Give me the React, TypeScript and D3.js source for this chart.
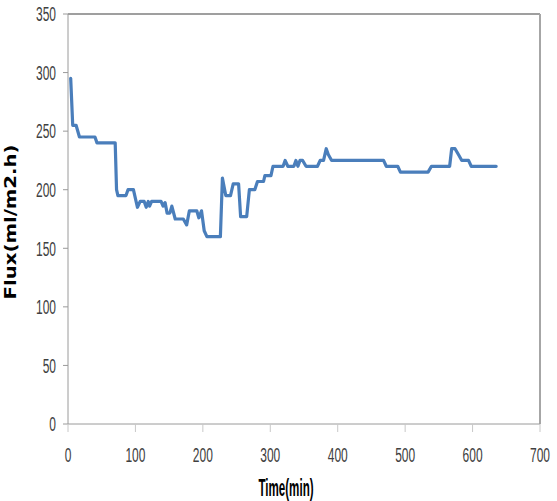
import React from "react";
import * as d3 from "d3";

const timeMin = [4,7,12,17,40,43,70,72,74,86,89,97,103,107,113,116,119,121,124,138,141,144,147,151,154,159,171,176,180,191,194,198,202,206,226,229,234,241,245,253,256,265,269,277,281,290,292,301,304,319,322,326,335,338,341,344,348,353,370,374,379,383,386,391,468,472,489,493,534,539,566,569,574,579,584,594,598,635];
const flux = [295,255,255,245,245,240,240,200,195,195,200,200,185,190,190,185,190,186,190,190,186,189,180,180,186,175,175,170,182,182,176,182,165,160,160,210,195,195,205,205,177,177,200,200,207,207,212,212,220,220,225,220,220,225,220,225,225,220,220,225,225,235,230,225,225,220,220,215,215,220,220,235,235,230,225,225,220,220];
const xTicks = [0,100,200,300,400,500,600,700];
const yTicks = [0,50,100,150,200,250,300,350];
const xTitle = "Time(min)";
const yTitle = "Flux(ml/m2.h)";

export default function App() {
  const W = 557, H = 501;
  const x = d3.scaleLinear().domain([0, 700]).range([68, 540]);
  const y = d3.scaleLinear().domain([0, 350]).range([424, 14]);
  const pts: [number, number][] = timeMin.map((t, i) => [t, flux[i]]);
  const line = d3.line<[number, number]>().x(d => x(d[0])).y(d => y(d[1]));
  const tickFont = "'Liberation Sans', Arial, sans-serif";
  const sy = 1.71;
  return (
    <svg width={W} height={H} style={{ position: "absolute", left: 0, top: 0, background: "#fff" }}>
      {/* frame */}
      <line x1={68} x2={540} y1={14} y2={14} stroke="#404040" strokeWidth={1.2} />
      <line x1={540} x2={540} y1={14} y2={424} stroke="#a6a6a6" strokeWidth={2} />
      <line x1={68} x2={68} y1={14} y2={424} stroke="#9a9a9a" strokeWidth={1} />
      <line x1={68} x2={540} y1={424} y2={424} stroke="#9a9a9a" strokeWidth={1} />
      {yTicks.map(t => (
        <g key={"y" + t}>
          <line x1={63} x2={68} y1={y(t)} y2={y(t)} stroke="#9a9a9a" strokeWidth={1} />
          <text transform={`translate(56, ${y(t) + 7.3}) scale(1, ${sy})`} textAnchor="end"
            fontFamily={tickFont} fontSize={12} fill="#404040">{t}</text>
        </g>
      ))}
      {xTicks.map(t => (
        <g key={"x" + t}>
          <line x1={x(t)} x2={x(t)} y1={424} y2={432} stroke="#c8c8c8" strokeWidth={1} />
          <text transform={`translate(${x(t)}, 462) scale(1, ${sy})`} textAnchor="middle"
            fontFamily={tickFont} fontSize={12} fill="#404040">{t}</text>
        </g>
      ))}
      <path d={line(pts) || ""} fill="none" stroke="#4a7ebb" strokeWidth={3.2} strokeLinejoin="round" strokeLinecap="round" />
      <text transform="translate(286, 496) scale(1, 2.05)" textAnchor="middle" fontFamily={tickFont}
        fontWeight="bold" fontSize={11.6} fill="#000">{xTitle}</text>
      <text transform={`translate(16, ${(14 + 424) / 2 + 3}) rotate(-90)`} textAnchor="middle"
        fontFamily="'DejaVu Sans', Verdana, sans-serif" fontWeight="bold" fontSize={15} fill="#000"
        textLength={155} lengthAdjust="spacingAndGlyphs">{yTitle}</text>
    </svg>
  );
}
